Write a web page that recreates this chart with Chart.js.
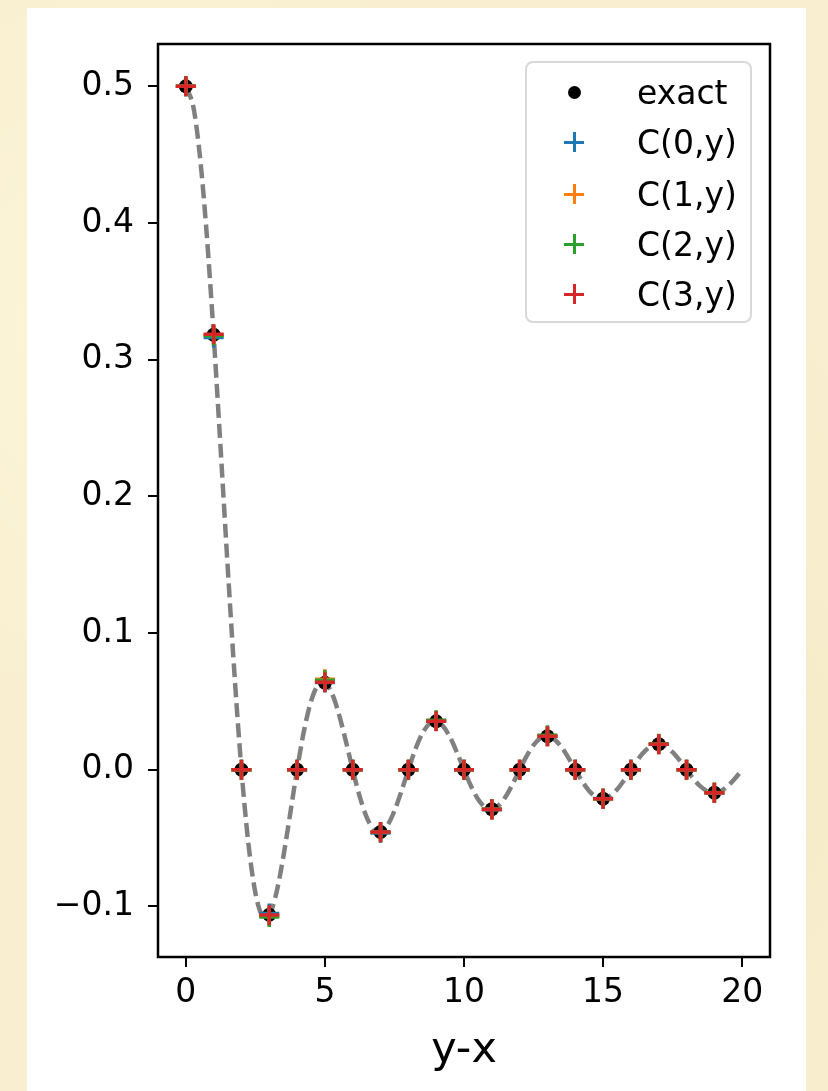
<!DOCTYPE html>
<html>
<head>
<meta charset="utf-8">
<script src="https://cdn.jsdelivr.net/npm/chart.js@4.4.1/dist/chart.umd.min.js"></script>
<style>
  html, body { margin: 0; padding: 0; }
  body {
    width: 828px; height: 1091px; overflow: hidden; position: relative;
    background: #f9efd0;
    background-image:
      radial-gradient(circle at 20% 30%, rgba(255,250,225,0.6) 0, rgba(255,250,225,0) 40%),
      radial-gradient(circle at 80% 70%, rgba(240,225,180,0.35) 0, rgba(240,225,180,0) 45%);
    font-family: "DejaVu Sans", sans-serif;
  }
  #card { position: absolute; left: 27px; top: 8px; width: 779px; height: 1090px; background: #fff; }
  #chart { position: absolute; left: 0; top: 0; }
  #legend {
    position: absolute; left: 525px; top: 61px; width: 223px; height: 258px;
    border: 2px solid #d9d9d9; border-radius: 8px; background: rgba(255,255,255,0.85);
  }
  .row { position: absolute; left: 0; height: 40px; width: 100%; font-size: 33px; color: #000; }
  .row .lbl { position: absolute; left: 110px; top: 50%; transform: translateY(-50%); line-height: 1; }
  .row .mk { position: absolute; left: 47px; top: 50%; }
  .dot { width: 13px; height: 13px; border-radius: 50%; background: #000; margin: -6.5px 0 0 -6.5px; }
  .plus { width: 20px; height: 20px; margin: -10px 0 0 -10px; position: relative; }
  .plus::before, .plus::after { content: ""; position: absolute; background: var(--c); }
  .plus::before { left: 0; top: 8.5px; width: 20px; height: 3px; }
  .plus::after { left: 8.5px; top: 0; width: 3px; height: 20px; }
</style>
</head>
<body>
<div id="card"></div>
<canvas id="chart" width="828" height="1091"></canvas>
<div id="legend"></div>
<script>
// sample points at integer separations
const xs = [0,1,2,3,4,5,6,7,8,9,10,11,12,13,14,15,16,17,18,19];
const exactVals = [0.5, 0.3183, 0, -0.1061, 0, 0.0637, 0, -0.0455, 0, 0.0354, 0, -0.0289, 0, 0.0245, 0, -0.0212, 0, 0.0187, 0, -0.0168];
const c0Vals = [0.5, 0.3162, 0, -0.1052, 0, 0.0638, 0, -0.0462, 0, 0.0356, 0, -0.0292, 0, 0.0245, 0, -0.0210, 0, 0.0187, 0, -0.0170];
const c1Vals = [0.5, 0.3180, 0, -0.1070, 0, 0.0662, 0, -0.0458, 0, 0.0358, 0, -0.0290, 0, 0.0246, 0, -0.0213, 0, 0.0188, 0, -0.0168];
const c2Vals = [0.5, 0.3175, 0, -0.1078, 0, 0.0655, 0, -0.0456, 0, 0.0362, 0, -0.0288, 0, 0.0252, 0, -0.0212, 0, 0.0191, 0, -0.0167];
const c3Vals = [0.5, 0.3186, 0, -0.1062, 0, 0.0640, 0, -0.0455, 0, 0.0354, 0, -0.0289, 0, 0.0245, 0, -0.0212, 0, 0.0187, 0, -0.0168];

// dashed reference curve, read every 0.25
const curveX = [0,0.25,0.5,0.75,1,1.25,1.5,1.75,2,2.25,2.5,2.75,3,3.25,3.5,3.75,4,4.25,4.5,4.75,5,5.25,5.5,5.75,6,6.25,6.5,6.75,7,7.25,7.5,7.75,8,8.25,8.5,8.75,9,9.25,9.5,9.75,10,10.25,10.5,10.75,11,11.25,11.5,11.75,12,12.25,12.5,12.75,13,13.25,13.5,13.75,14,14.25,14.5,14.75,15,15.25,15.5,15.75,16,16.25,16.5,16.75,17,17.25,17.5,17.75,18,18.25,18.5,18.75,19,19.25,19.5,19.75,20];
const curveY = [0.5,0.4873,0.4502,0.3921,0.3183,0.2353,0.1501,0.0696,0,-0.0541,-0.0900,-0.1069,-0.1061,-0.0905,-0.0643,-0.0325,0,0.0287,0.0500,0.0619,0.0637,0.0560,0.0409,0.0212,0,-0.0195,-0.0346,-0.0436,-0.0455,-0.0406,-0.0300,-0.0157,0,0.0148,0.0265,0.0336,0.0354,0.0318,0.0237,0.0125,0,-0.0119,-0.0214,-0.0274,-0.0289,-0.0261,-0.0196,-0.0104,0,0.0099,0.0180,0.0231,0.0245,0.0222,0.0167,0.0089,0,-0.0085,-0.0155,-0.0199,-0.0212,-0.0193,-0.0145,-0.0077,0,0.0075,0.0136,0.0176,0.0187,0.0170,0.0129,0.0069,0,-0.0067,-0.0122,-0.0157,-0.0168,-0.0153,-0.0115,-0.0062,0];

const xTicks = [0, 5, 10, 15, 20];
const yTicks = [-0.1, 0, 0.1, 0.2, 0.3, 0.4, 0.5];

const pts = (xv, yv) => xv.map((x, i) => ({ x, y: yv[i] }));

const crossSet = (label, vals, color) => ({
  type: 'scatter', label, data: pts(xs, vals),
  pointStyle: 'cross', pointRadius: 10, pointHoverRadius: 10,
  borderColor: color, backgroundColor: color,
  borderWidth: 3.5, pointBorderWidth: 3.5, pointHoverBorderWidth: 3.5
});

// first dataset is drawn on top
const datasets = [
  crossSet('C(3,y)', c3Vals, '#d62728'),
  crossSet('C(2,y)', c2Vals, '#2ca02c'),
  crossSet('C(1,y)', c1Vals, '#ff7f0e'),
  crossSet('C(0,y)', c0Vals, '#1f77b4'),
  { type: 'scatter', label: 'exact', data: pts(xs, exactVals),
    pointStyle: 'circle', pointRadius: 7, pointHoverRadius: 7,
    backgroundColor: '#000', borderColor: '#000', pointBorderWidth: 0 },
  { type: 'line', label: 'curve', data: pts(curveX, curveY),
    borderColor: '#808080', borderWidth: 4.5, borderDash: [14, 6],
    pointRadius: 0, tension: 0.3, fill: false }
];

const frame = {
  id: 'frame',
  afterDraw(chart) {
    const { ctx, chartArea: a } = chart;
    ctx.save();
    ctx.strokeStyle = '#000';
    ctx.lineWidth = 2.5;
    ctx.strokeRect(a.left, a.top, a.right - a.left, a.bottom - a.top);
    ctx.restore();
  }
};

const tickFont = { family: 'DejaVu Sans', size: 33 };

new Chart(document.getElementById('chart'), {
  type: 'scatter',
  data: { datasets },
  plugins: [frame],
  options: {
    responsive: false,
    animation: false,
    layout: { padding: { top: 44, right: 58, left: 0, bottom: 0 } },
    plugins: { legend: { display: false }, tooltip: { enabled: false } },
    scales: {
      x: {
        type: 'linear', min: -1, max: 21,
        afterBuildTicks: s => { s.ticks = xTicks.map(v => ({ value: v })); },
        afterFit: s => { s.height = 134; },
        grid: { drawOnChartArea: false, drawTicks: true, tickLength: 10, color: '#000', lineWidth: 2 },
        border: { display: false },
        ticks: { color: '#000', font: tickFont, padding: 7, maxRotation: 0, callback: v => String(v) },
        title: { display: true, text: 'y-x', color: '#000', font: { family: 'DejaVu Sans', size: 43 }, padding: { top: 0, bottom: 14 } }
      },
      y: {
        type: 'linear', min: -0.137, max: 0.531,
        afterBuildTicks: s => { s.ticks = yTicks.map(v => ({ value: v })); },
        afterFit: s => { s.width = 158; },
        grid: { drawOnChartArea: false, drawTicks: true, tickLength: 10, color: '#000', lineWidth: 2 },
        border: { display: false },
        ticks: { color: '#000', font: tickFont, padding: 14, callback: v => v.toFixed(1).replace('-', '\u2212') }
      }
    }
  }
});

// legend in the order the series were plotted
const legendOrder = ['exact', 'C(0,y)', 'C(1,y)', 'C(2,y)', 'C(3,y)'];
const legendTops = [9, 59, 111, 161, 211];
const legend = document.getElementById('legend');
legend.innerHTML = legendOrder.map((name, i) => {
  const ds = datasets.find(d => d.label === name);
  const mk = ds.pointStyle === 'circle'
    ? '<div class="mk dot"></div>'
    : `<div class="mk plus" style="--c:${ds.borderColor}"></div>`;
  return `<div class="row" style="top:${legendTops[i]}px">${mk}<span class="lbl">${name}</span></div>`;
}).join('');
</script>
</body>
</html>
